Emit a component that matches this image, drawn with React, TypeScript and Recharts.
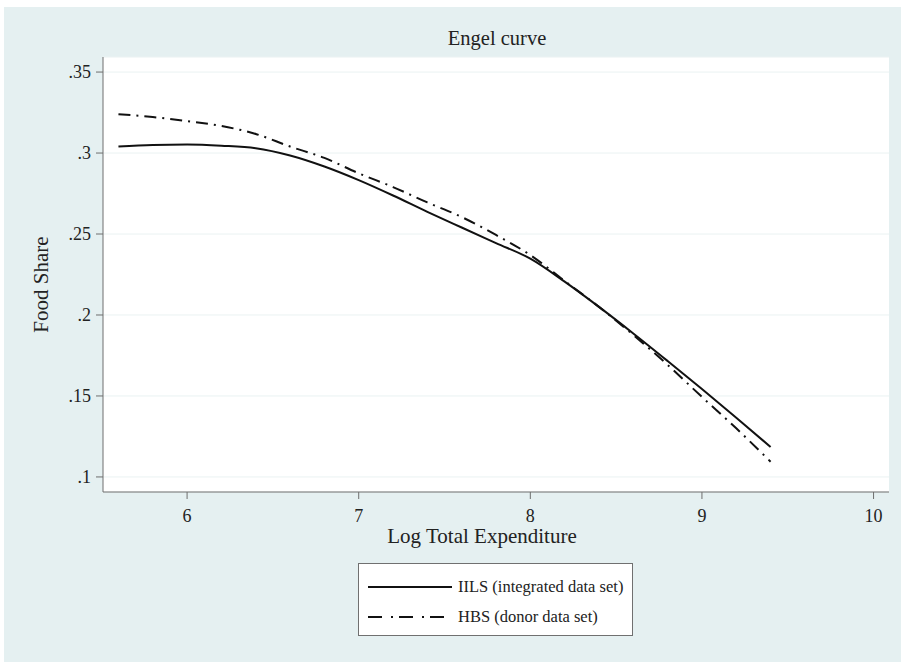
import { LineChart, Line, XAxis, YAxis, CartesianGrid } from 'recharts';

const logExpenditure = [5.6, 5.8, 6.0, 6.2, 6.4, 6.6, 6.8, 7.0, 7.2, 7.4, 7.6, 7.8, 8.0, 8.2, 8.4, 8.6, 8.8, 9.0, 9.2, 9.4];
const iilsShare = [0.304, 0.305, 0.3052, 0.3045, 0.303, 0.2985, 0.2917, 0.2833, 0.2738, 0.2637, 0.254, 0.2444, 0.2348, 0.2206, 0.205, 0.1886, 0.1716, 0.1543, 0.1366, 0.1185];
const hbsShare = [0.324, 0.3222, 0.3197, 0.3167, 0.3118, 0.304, 0.297, 0.2875, 0.279, 0.2695, 0.2605, 0.2494, 0.237, 0.221, 0.205, 0.1877, 0.1692, 0.1494, 0.13, 0.1094];
const xTicks = [6, 7, 8, 9, 10];
const yTicks = [0.1, 0.15, 0.2, 0.25, 0.3, 0.35];

const SERIF = '"Liberation Serif", "Times New Roman", serif';
const DASH_DOT = '12 6 2 6';

const data = logExpenditure.map((x, i) => ({ x, iils: iilsShare[i], hbs: hbsShare[i] }));

const fmtShare = (v: number) => String(v).replace(/^0/, '');

export default function App() {
  return (
    <div style={{
      position: 'absolute',
      left: 4,
      top: 7,
      width: 897,
      height: 655,
      background: '#e5f0f1',
      fontFamily: SERIF,
    }}>
      <LineChart width={897} height={655} data={data} margin={{ top: 50, right: 12, bottom: 0, left: 0 }}>
        <CartesianGrid vertical={false} stroke="#eaf2f2" fill="#ffffff" fillOpacity={1} />
        <XAxis
          dataKey="x"
          type="number"
          domain={[5.51, 10.09]}
          ticks={xTicks}
          allowDataOverflow
          height={170}
          stroke="#6e6e6e"
          tickSize={7}
          tickMargin={10}
          tick={{ fill: '#222', fontSize: 18, fontFamily: SERIF }}
          label={{
            value: 'Log Total Expenditure',
            position: 'insideTop',
            offset: 36,
            dx: -14,
            fill: '#222',
            fontSize: 21,
            fontFamily: SERIF,
          }}
        />
        <YAxis
          type="number"
          domain={[0.0907, 0.3593]}
          ticks={yTicks}
          allowDataOverflow
          width={99}
          stroke="#6e6e6e"
          tickSize={7}
          tickMargin={5}
          tickFormatter={fmtShare}
          tick={{ fill: '#222', fontSize: 18, fontFamily: SERIF }}
          label={{
            value: 'Food Share',
            position: 'center',
            angle: -90,
            dx: -13,
            dy: 10,
            fill: '#222',
            fontSize: 21,
            fontFamily: SERIF,
          }}
        />
        <Line dataKey="iils" stroke="#111" strokeWidth={2} dot={false} type="monotone" isAnimationActive={false} />
        <Line dataKey="hbs" stroke="#111" strokeWidth={2} strokeDasharray={DASH_DOT} dot={false} type="monotone" isAnimationActive={false} />
        <text x={493} y={38} textAnchor="middle" fontSize={20.5} fontFamily={SERIF} fill="#222">Engel curve</text>
      </LineChart>

      {/* legend box */}
      <div style={{
        position: 'absolute',
        left: 354,
        top: 556,
        width: 273,
        height: 71,
        background: '#fff',
        border: '1px solid #707070',
      }}>
        <svg width={273} height={71} style={{ position: 'absolute', left: 0, top: 0 }}>
          <line x1={9} x2={93} y1={23} y2={23} stroke="#111" strokeWidth={2} />
          <line x1={9} x2={93} y1={53} y2={53} stroke="#111" strokeWidth={2} strokeDasharray="14 9 2 6" />
          <text x={99} y={28} fontSize={16.5} fontFamily={SERIF} fill="#222">IILS (integrated data set)</text>
          <text x={99} y={58} fontSize={16.5} fontFamily={SERIF} fill="#222">HBS (donor data set)</text>
        </svg>
      </div>
    </div>
  );
}
